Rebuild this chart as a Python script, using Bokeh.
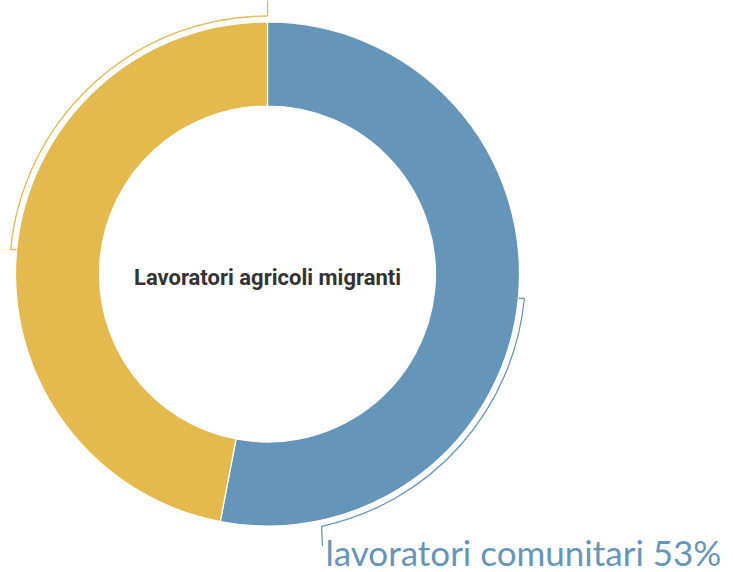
import math
from bokeh.plotting import figure
from bokeh.models import Range1d
from bokeh.core.properties import value
from bokeh.embed import file_html
from bokeh.resources import INLINE

# ---- data ----
categories = ["lavoratori comunitari", "lavoratori extracomunitari"]
shares = [53, 47]
colors = ["#6596ba", "#e4ba4f"]
title_text = "Lavoratori agricoli migranti"

W, H = 733, 572
p = figure(width=W, height=H, output_backend="svg", toolbar_location=None,
           x_range=Range1d(0, W), y_range=Range1d(0, H), min_border=0)
p.axis.visible = False
p.grid.visible = False
p.outline_line_color = None
p.background_fill_color = "white"

# page coords: centre (267, 273.5) -> data y = H - 273.5
cx, cy = 267, H - 273.5
R_out, R_in = 252, 168
R_lead = 258

total = sum(shares)
start = math.pi / 2
angles = []
for s, c in zip(shares, colors):
    sweep = 2 * math.pi * s / total
    end = start - sweep
    p.annular_wedge(x=cx, y=cy, inner_radius=R_in, outer_radius=R_out,
                    start_angle=start, end_angle=end, direction="clock",
                    fill_color=c, line_color="white", line_width=1.2)
    angles.append((start, end, start - sweep / 2))
    start = end

# leader for blue slice (label below right)
b_mid = angles[0][2]
b_lab = -math.pi / 2 + math.asin(54 / R_lead)
p.arc(x=cx, y=cy, radius=R_lead, start_angle=b_mid, end_angle=b_lab,
      direction="clock", line_color=colors[0], line_width=1.3)
p.line([cx + R_out * math.cos(b_mid), cx + R_lead * math.cos(b_mid)],
       [cy + R_lead * math.sin(b_mid), cy + R_lead * math.sin(b_mid)],
       line_color=colors[0], line_width=1.3)
bx = cx + R_lead * math.cos(b_lab)
by = cy + R_lead * math.sin(b_lab)
p.line([bx, bx + 1], [by, by - 20], line_color=colors[0], line_width=1.3)

# leader for yellow slice (label above, outside view)
y_mid = angles[1][2]
y_lab = math.pi / 2
p.arc(x=cx, y=cy, radius=R_lead, start_angle=y_mid, end_angle=y_lab - 2 * math.pi,
      direction="clock", line_color=colors[1], line_width=1.3)
p.line([cx + R_lead * math.cos(y_mid), cx + R_out * math.cos(y_mid)],
       [cy + R_lead * math.sin(y_mid), cy + R_lead * math.sin(y_mid)],
       line_color=colors[1], line_width=1.3)
p.line([cx, cx], [cy + R_lead, H + 20], line_color=colors[1], line_width=1.3)

p.text(x=[bx + 4], y=[H - 551], text=[f"{categories[0]} {shares[0]}%"],
       text_font=value("Lato"), text_font_size="35px", text_color=colors[0],
       text_baseline="middle", text_align="left")

p.text(x=[cx], y=[cy - 3], text=[title_text],
       text_font=value("Roboto"),
       text_font_size="22px", text_font_style="bold", text_color="#333333",
       text_baseline="middle", text_align="center")

open("out.html", "w").write(file_html(p, INLINE))
